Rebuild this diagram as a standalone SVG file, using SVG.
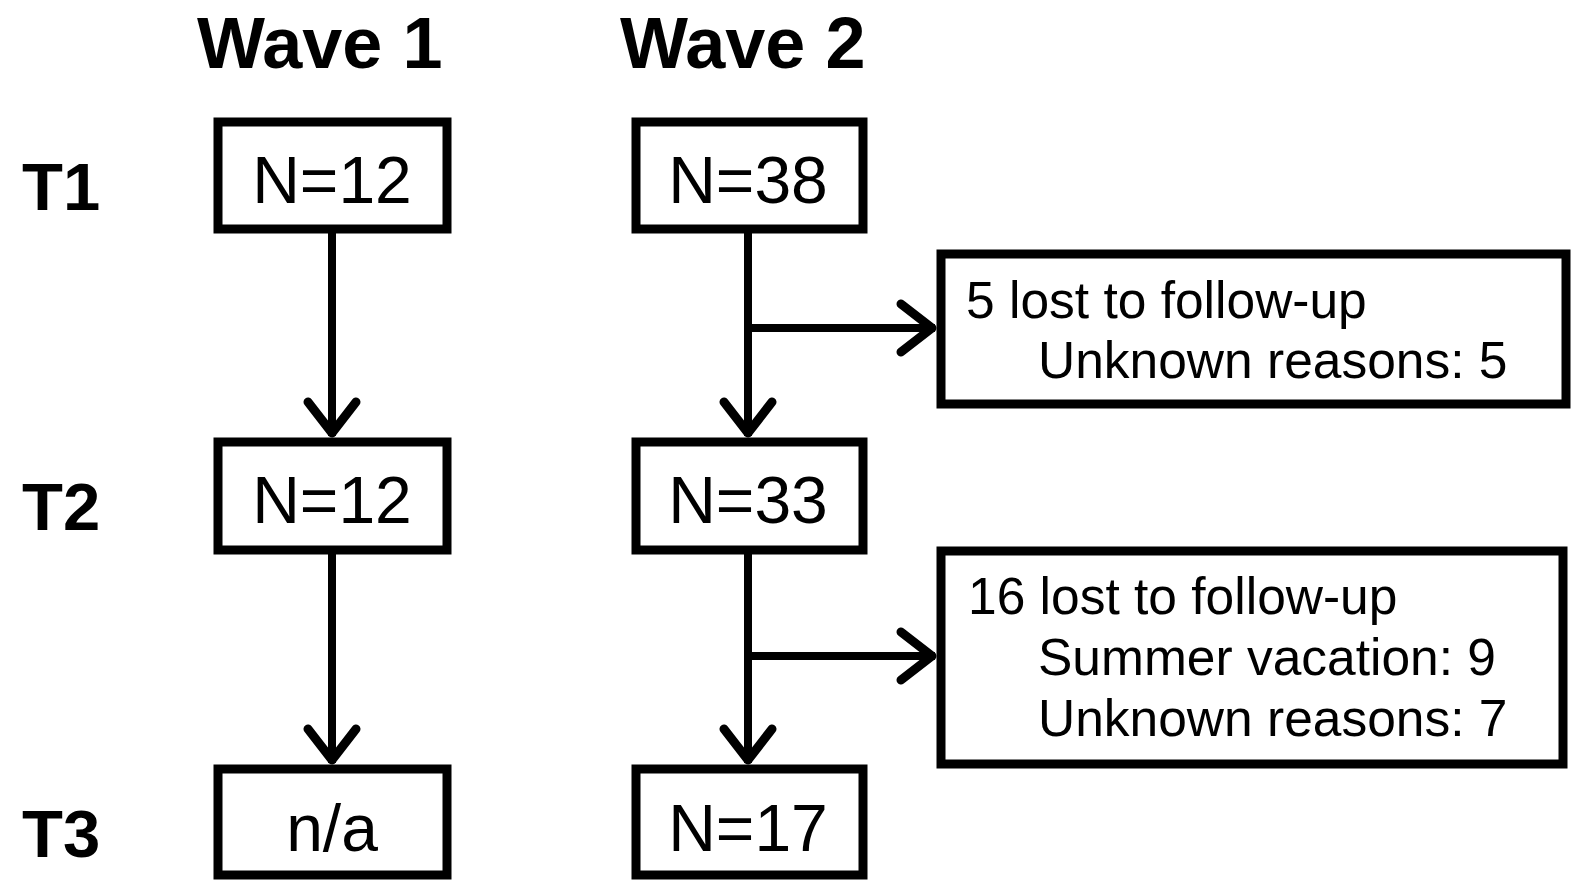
<svg xmlns="http://www.w3.org/2000/svg" width="1574" height="890" viewBox="0 0 1574 890">
<style>
.box{fill:#fff;stroke:#000;stroke-width:9}
.hdr{font-family:"Liberation Sans",Arial,sans-serif;font-weight:bold;font-size:72px;fill:#000}
.tl{font-family:"Liberation Sans",Arial,sans-serif;font-weight:bold;font-size:67px;fill:#000}
.n{font-family:"Liberation Sans",Arial,sans-serif;font-size:66px;fill:#000;text-anchor:middle}
.s{font-family:"Liberation Sans",Arial,sans-serif;font-size:51.5px;fill:#000}
.c{fill:none;stroke:#000;stroke-width:8}
</style>
<defs>
<marker id="chev" markerUnits="userSpaceOnUse" viewBox="-44 -32 50 64" markerWidth="50" markerHeight="64" refX="0" refY="0" orient="auto">
<path d="M-34,-24 L-3,0 L-34,24" fill="none" stroke="#000" stroke-width="9" stroke-linecap="round" stroke-linejoin="round"/>
</marker>
</defs>
<rect width="1574" height="890" fill="#fff"/>
<text class="hdr" x="197" y="68">Wave 1</text>
<text class="hdr" x="620" y="68">Wave 2</text>
<text class="tl" x="22" y="210">T1</text>
<text class="tl" x="22" y="530">T2</text>
<text class="tl" x="22" y="857">T3</text>
<g id="connectors">
<path class="c" d="M332,232 V436" marker-end="url(#chev)"/>
<path class="c" d="M332,553 V763" marker-end="url(#chev)"/>
<path class="c" d="M748,232 V436" marker-end="url(#chev)"/>
<path class="c" d="M748,553 V763" marker-end="url(#chev)"/>
<path class="c" d="M748,328 H935" marker-end="url(#chev)"/>
<path class="c" d="M748,656 H935" marker-end="url(#chev)"/>
</g>
<g id="w1t1"><rect class="box" x="218" y="122" width="229" height="107"/><text class="n" x="332" y="203">N=12</text></g>
<g id="w1t2"><rect class="box" x="218" y="442" width="229" height="108"/><text class="n" x="332" y="523">N=12</text></g>
<g id="w1t3"><rect class="box" x="218" y="769" width="229" height="106"/><text class="n" x="332" y="851">n/a</text></g>
<g id="w2t1"><rect class="box" x="636" y="122" width="227" height="107"/><text class="n" x="748" y="203">N=38</text></g>
<g id="w2t2"><rect class="box" x="636" y="442" width="227" height="108"/><text class="n" x="748" y="523">N=33</text></g>
<g id="w2t3"><rect class="box" x="636" y="769" width="227" height="106"/><text class="n" x="748" y="851">N=17</text></g>
<g id="loss1"><rect class="box" x="941" y="254" width="625" height="150"/>
<text class="s" x="966" y="318">5 lost to follow-up</text>
<text class="s" x="1038" y="378">Unknown reasons: 5</text></g>
<g id="loss2"><rect class="box" x="941" y="551" width="622" height="213"/>
<text class="s" x="968" y="614">16 lost to follow-up</text>
<text class="s" x="1038" y="675">Summer vacation: 9</text>
<text class="s" x="1038" y="736">Unknown reasons: 7</text></g>
</svg>
